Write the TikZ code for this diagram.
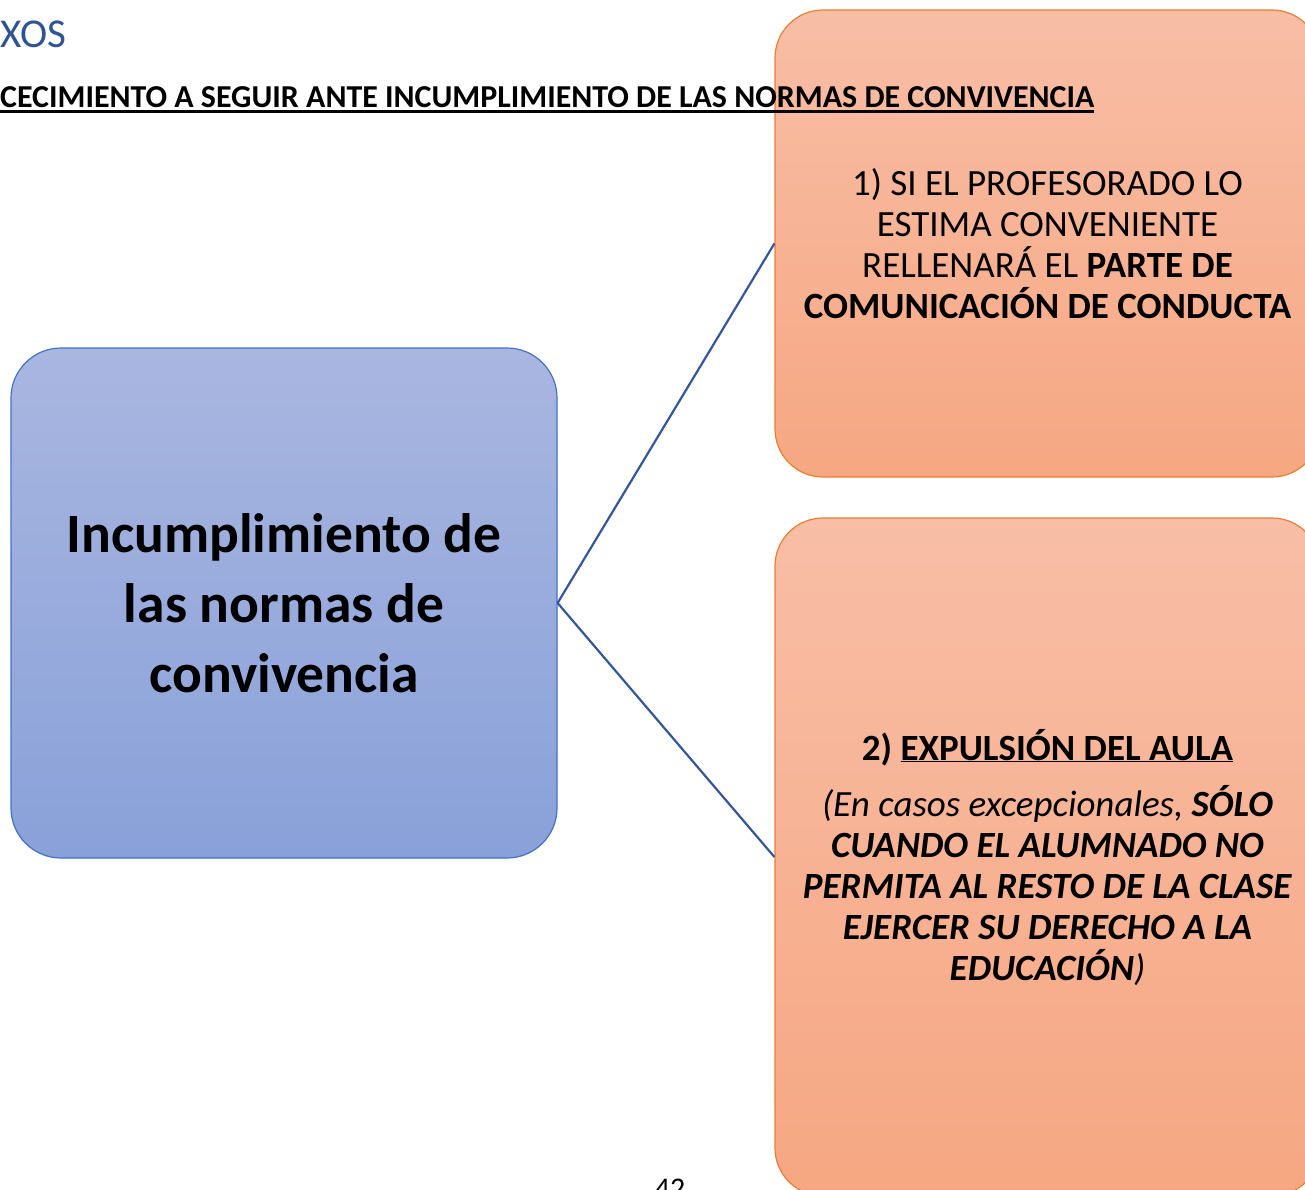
\documentclass[tikz,border=0pt]{standalone}
\usepackage{fontspec}
\setmainfont{Carlito}
\usepackage{graphicx}
\newcommand{\thickul}[1]{\leavevmode\vtop{\hbox{#1}\kern2pt\hrule height 2.6pt}}
\definecolor{bluetop}{RGB}{169,182,224}
\definecolor{bluebot}{RGB}{137,161,217}
\definecolor{blueline}{RGB}{68,114,196}
\definecolor{conn}{RGB}{52,87,156}
\definecolor{orangetop}{RGB}{248,190,166}
\definecolor{orangebot}{RGB}{246,167,130}
\definecolor{orangeline}{RGB}{237,125,49}
\definecolor{headblue}{RGB}{47,84,150}
\tikzset{
  mainbox/.style={draw=blueline, line width=1.2pt, top color=bluetop, bottom color=bluebot,
    rounded corners=50pt, minimum width=546pt, minimum height=510pt, inner sep=0pt,
    align=center, font=\fontsize{55.5}{70}\selectfont\bfseries},
  stepbox/.style={draw=orangeline, line width=1.2pt, top color=orangetop, bottom color=orangebot,
    rounded corners=48pt, minimum width=545pt, minimum height=#1, inner sep=0pt,
    align=center, font=\fontsize{37}{41}\selectfont},
  connector/.style={draw=conn, line width=2.2pt}
}
\begin{document}
\begin{tikzpicture}[x=1pt,y=-1pt]
\useasboundingbox (0,0) rectangle (1305,1190);
\clip (0,0) rectangle (1305,1190);
\node[mainbox] (main) at (284,603)
  {Incumplimiento de\\las normas de\\convivencia};
\node[stepbox=467pt] (top) at (1047.5,243.5)
  {1) SI EL PROFESORADO LO\\ESTIMA CONVENIENTE\\RELLENARÁ EL \textbf{PARTE DE}\\\textbf{COMUNICACIÓN DE CONDUCTA}};
\node[stepbox=678pt] (bot) at (1047.5,857)
  {\textbf{2) \underline{EXPULSIÓN DEL AULA}}\\[15pt]
   \textit{(En casos excepcionales, \textbf{SÓLO}}\\
   \textit{\textbf{CUANDO EL ALUMNADO NO}}\\
   \textit{\textbf{PERMITA AL RESTO DE LA CLASE}}\\
   \textit{\textbf{EJERCER SU DERECHO A LA}}\\
   \textit{\textbf{EDUCACIÓN})}};
\draw[connector] (main.east) -- (top.west);
\draw[connector] (main.east) -- (bot.west);
\node[anchor=base west, inner sep=0pt, text=headblue] (annex) at (0,48)
  {\fontsize{41}{48}\selectfont XOS};
\node[anchor=base west, inner sep=0pt] (title) at (0,108)
  {\resizebox{1094pt}{!}{\fontsize{30}{36}\selectfont\bfseries \thickul{CECIMIENTO A SEGUIR ANTE INCUMPLIMIENTO DE LAS NORMAS DE CONVIVENCIA}}};
\node[anchor=base, inner sep=0pt] (page) at (670,1198)
  {\fontsize{30}{36}\selectfont 42};
\end{tikzpicture}
\end{document}
